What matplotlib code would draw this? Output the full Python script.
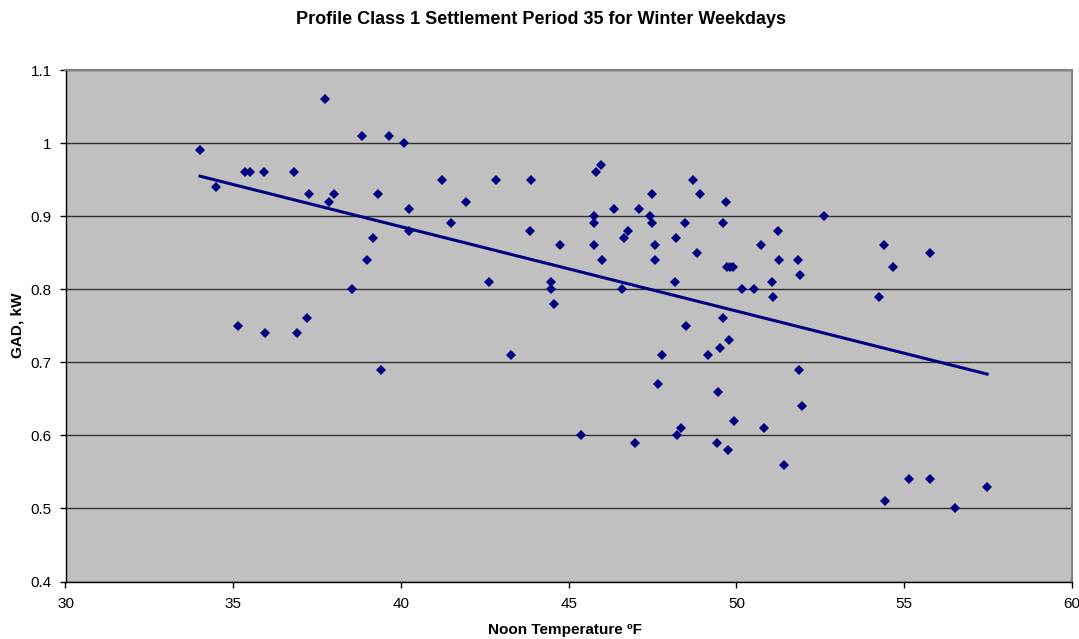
import numpy as np
import matplotlib
matplotlib.use("Agg")
import matplotlib.pyplot as plt

plt.rcParams['font.family'] = ['Liberation Sans', 'DejaVu Sans']

title = "Profile Class 1 Settlement Period 35 for Winter Weekdays"
xlabel = "Noon Temperature ºF"
ylabel = "GAD, kW"

temperature = [
    34.01, 34.49, 35.35, 35.49, 35.93, 36.82, 35.14, 35.95, 36.89, 37.19,
    37.26, 37.73, 37.84, 38.00, 38.55, 38.83, 38.98, 39.16, 39.31, 39.40,
    39.65, 40.09, 40.23, 40.24, 41.21, 41.50, 41.94, 42.62, 42.83, 43.27,
    43.85, 43.88, 44.46, 44.46, 44.57, 44.73, 45.37, 45.74, 45.74, 45.74,
    45.82, 45.96, 46.00, 46.35, 46.59, 46.64, 46.77, 46.97, 47.08, 47.41,
    47.48, 47.48, 47.57, 47.57, 47.67, 47.77, 48.16, 48.20, 48.23, 48.34,
    48.46, 48.49, 48.69, 48.83, 48.92, 49.16, 49.44, 49.43, 49.51, 49.59,
    49.61, 49.70, 49.74, 49.78, 49.73, 49.81, 49.91, 49.94, 50.15, 50.53,
    50.73, 50.82, 51.05, 51.08, 51.25, 51.28, 51.42, 52.62, 51.84, 51.88,
    51.85, 51.96, 54.25, 54.40, 54.43, 54.66, 55.15, 55.76, 55.77, 56.52,
    57.47,
]
gad = [
    0.99, 0.94, 0.96, 0.96, 0.96, 0.96, 0.75, 0.74, 0.74, 0.76,
    0.93, 1.06, 0.92, 0.93, 0.80, 1.01, 0.84, 0.87, 0.93, 0.69,
    1.01, 1.00, 0.91, 0.88, 0.95, 0.89, 0.92, 0.81, 0.95, 0.71,
    0.88, 0.95, 0.81, 0.80, 0.78, 0.86, 0.60, 0.90, 0.89, 0.86,
    0.96, 0.97, 0.84, 0.91, 0.80, 0.87, 0.88, 0.59, 0.91, 0.90,
    0.93, 0.89, 0.86, 0.84, 0.67, 0.71, 0.81, 0.87, 0.60, 0.61,
    0.89, 0.75, 0.95, 0.85, 0.93, 0.71, 0.66, 0.59, 0.72, 0.76,
    0.89, 0.92, 0.58, 0.73, 0.83, 0.83, 0.83, 0.62, 0.80, 0.80,
    0.86, 0.61, 0.81, 0.79, 0.88, 0.84, 0.56, 0.90, 0.84, 0.82,
    0.69, 0.64, 0.79, 0.86, 0.51, 0.83, 0.54, 0.85, 0.54, 0.50,
    0.53,
]

x = np.array(temperature)
y = np.array(gad)
slope, intercept = np.polyfit(x, y, 1)
xt = np.array([x.min(), x.max()])
yt = slope * xt + intercept

fig = plt.figure(figsize=(10.79, 6.39), dpi=100)
ax = fig.add_axes([65.5 / 1079, 1 - 581.5 / 639, (1072 - 65.5) / 1079, (581.5 - 70) / 639])
ax.set_facecolor('#C0C0C0')

ax.set_xlim(30, 60)
ax.set_ylim(0.4, 1.1)
ax.set_xticks(np.arange(30, 61, 5))
ax.set_yticks(np.round(np.arange(0.4, 1.11, 0.1), 1))
ax.set_yticklabels(['0.4', '0.5', '0.6', '0.7', '0.8', '0.9', '1', '1.1'])

ax.yaxis.grid(True, color='#000000', linewidth=1.0, alpha=0.75)
ax.set_axisbelow(True)

for s in ['top', 'right']:
    ax.spines[s].set_color('#808080')
    ax.spines[s].set_linewidth(1.5)
for s in ['left', 'bottom']:
    ax.spines[s].set_color('#000000')
    ax.spines[s].set_linewidth(1.0)

ax.tick_params(direction='out', length=4, width=1, labelsize=11, colors='#000000')
ax.tick_params(axis='x', pad=7)
ax.tick_params(axis='y', pad=6)

ax.plot(xt, yt, color='#000080', linewidth=2.2, zorder=2)
ax.plot(x, y, linestyle='none', marker='D', markersize=5.6, color='#000080',
        markeredgewidth=0, zorder=3, clip_on=False)

fig.text(565 / 1079, 1 - 630 / 639, xlabel, ha='center', va='center', fontsize=11, fontweight='bold')
fig.text(18 / 1079, 1 - 325.75 / 639, ylabel, ha='center', va='center', rotation=90,
         fontsize=11, fontweight='bold')
fig.text(540.5 / 1079, 1 - 19 / 639, title, ha='center', va='center', fontsize=13, fontweight='bold')

fig.savefig('out.png', dpi=100)
